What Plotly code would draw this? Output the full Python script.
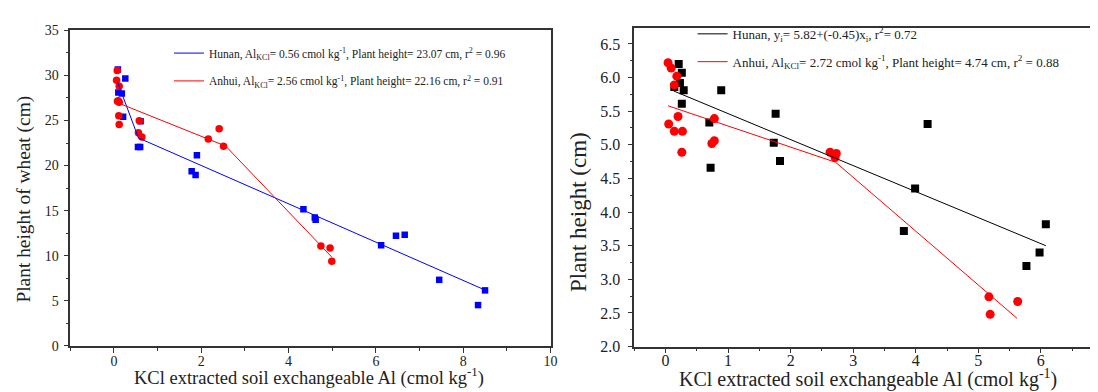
import plotly.graph_objects as go

# ---------------- Left panel data (wheat) ----------------
hunan_L_x = [0.09, 0.26, 0.10, 0.18, 0.21, 0.61, 0.55, 0.60, 1.90, 1.78, 1.87,
             4.34, 4.60, 4.62, 6.12, 6.46, 6.66, 7.45, 8.34, 8.50]
hunan_L_y = [30.67, 29.65, 28.1, 28.0, 25.43, 24.93, 22.05, 22.05, 21.15, 19.38, 18.95,
             15.16, 14.24, 13.99, 11.16, 12.22, 12.33, 7.33, 4.53, 6.16]
anhui_L_x = [0.075, 0.06, 0.12, 0.08, 0.12, 0.10, 0.11, 0.12, 0.58, 0.56, 0.64,
             2.16, 2.41, 2.51, 4.74, 4.95, 4.99]
anhui_L_y = [30.56, 29.47, 28.8, 27.13, 27.03, 27.2, 25.53, 24.57, 24.96, 23.65, 23.16,
             22.95, 24.09, 22.14, 11.09, 10.87, 9.39]
# segmented fits (start, breakpoint, end)
hunan_L_fit_x = [0.08, 0.56, 8.50]
hunan_L_fit_y = [29.3, 23.07, 6.20]
anhui_L_fit_x = [0.07, 2.56, 4.99]
anhui_L_fit_y = [27.0, 22.16, 9.85]

# ---------------- Right panel data ----------------
hunan_R_x = [0.21, 0.26, 0.23, 0.14, 0.29, 0.26, 0.89, 0.70, 0.72, 1.76, 1.73, 1.83,
             4.19, 3.99, 3.81, 6.08, 5.98, 5.77]
hunan_R_y = [6.20, 6.07, 5.92, 5.86, 5.81, 5.61, 5.81, 5.33, 4.66, 5.46, 5.03, 4.76,
             5.31, 4.35, 3.72, 3.82, 3.40, 3.20]
anhui_R_x = [0.04, 0.09, 0.18, 0.14, 0.05, 0.20, 0.14, 0.27, 0.26, 0.78, 0.74, 0.78,
             2.63, 2.73, 2.71, 5.17, 5.19, 5.63]
anhui_R_y = [6.22, 6.14, 6.02, 5.89, 5.31, 5.42, 5.20, 5.20, 4.89, 5.39, 5.02, 5.06,
             4.89, 4.87, 4.81, 2.74, 2.48, 2.67]
hunan_R_fit_x = [0.13, 6.08]
hunan_R_fit_y = [5.80, 3.50]
anhui_R_fit_x = [0.04, 2.72, 5.62]
anhui_R_fit_y = [5.58, 4.74, 2.42]

label_hL = "Hunan, Al<sub>KCl</sub>= 0.56 cmol kg<sup>-1</sup>, Plant height= 23.07 cm, r<sup>2</sup> = 0.96"
label_aL = "Anhui, Al<sub>KCl</sub>= 2.56 cmol kg<sup>-1</sup>, Plant height= 22.16 cm, r<sup>2</sup> = 0.91"
label_hR = "Hunan, y<sub>i</sub>= 5.82+(-0.45)x<sub>i</sub>, r<sup>2</sup>= 0.72"
label_aR = "Anhui, Al<sub>KCl</sub>= 2.72 cmol kg<sup>-1</sup>, Plant height= 4.74 cm, r<sup>2</sup> = 0.88"

xtitle = "KCl extracted soil exchangeable Al (cmol kg<sup>-1</sup>)"
ytitle_L = "Plant height of wheat (cm)"
ytitle_R = "Plant height (cm)"

BLUE = "#0000ff"
RED = "#ff0000"
FONT = "Liberation Serif"
TXT = "#222222"
AX = "#333333"

W, H = 1098, 392
def px_x(p):
    return p / W
def px_y(p):
    return (H - p) / H

fig = go.Figure()

# left panel
fig.add_trace(go.Scatter(x=hunan_L_x, y=hunan_L_y, mode="markers",
                         marker=dict(symbol="square", size=6.5, color=BLUE),
                         showlegend=False, xaxis="x", yaxis="y"))
fig.add_trace(go.Scatter(x=anhui_L_x, y=anhui_L_y, mode="markers",
                         marker=dict(symbol="circle", size=7.5, color=RED),
                         showlegend=False, xaxis="x", yaxis="y"))
fig.add_trace(go.Scatter(x=hunan_L_fit_x, y=hunan_L_fit_y, mode="lines",
                         line=dict(color=BLUE, width=1), name=label_hL,
                         legend="legend", xaxis="x", yaxis="y"))
fig.add_trace(go.Scatter(x=anhui_L_fit_x, y=anhui_L_fit_y, mode="lines",
                         line=dict(color=RED, width=1), name=label_aL,
                         legend="legend2", xaxis="x", yaxis="y"))

# right panel
fig.add_trace(go.Scatter(x=hunan_R_x, y=hunan_R_y, mode="markers",
                         marker=dict(symbol="square", size=8, color="black"),
                         showlegend=False, xaxis="x2", yaxis="y2"))
fig.add_trace(go.Scatter(x=anhui_R_x, y=anhui_R_y, mode="markers",
                         marker=dict(symbol="circle", size=9, color=RED),
                         showlegend=False, xaxis="x2", yaxis="y2"))
fig.add_trace(go.Scatter(x=hunan_R_fit_x, y=hunan_R_fit_y, mode="lines",
                         line=dict(color="black", width=1), name=label_hR,
                         legend="legend3", xaxis="x2", yaxis="y2"))
fig.add_trace(go.Scatter(x=anhui_R_fit_x, y=anhui_R_fit_y, mode="lines",
                         line=dict(color=RED, width=1), name=label_aR,
                         legend="legend4", xaxis="x2", yaxis="y2"))

def axis_common(fs):
    return dict(showgrid=False, zeroline=False, showline=True, linecolor=AX,
                linewidth=1.5, ticks="outside", tickcolor=AX, tickwidth=1.2, ticklen=5,
                tickfont=dict(family=FONT, size=fs, color=TXT))

def minor(d):
    return dict(dtick=d, ticklen=3, ticks="outside", tickcolor=AX, tickwidth=1)

def leg(x, y, fs):
    return dict(x=px_x(x), y=px_y(y), xanchor="left", yanchor="middle",
                bgcolor="rgba(0,0,0,0)", borderwidth=0,
                font=dict(family=FONT, size=fs, color=TXT))

fig.update_layout(
    width=W, height=H,
    margin=dict(l=0, r=0, t=0, b=0),
    paper_bgcolor="white", plot_bgcolor="white",
    font=dict(family=FONT, color=TXT),
    xaxis=dict(domain=[px_x(62.7), px_x(546)], range=[-1, 10], tick0=0, dtick=2,
               minor=minor(1), mirror=True, ticklabelstandoff=-3,
               anchor="y", **axis_common(14)),
    yaxis=dict(domain=[px_y(345), px_y(16)], range=[0, 35], tick0=0, dtick=5,
               minor=minor(2.5), mirror=True, ticklabelstandoff=2,
               anchor="x", **axis_common(14)),
    xaxis2=dict(domain=[px_x(630.3), 1.0], range=[-0.5, 6.93], tick0=0, dtick=1,
                minor=minor(0.5), mirror=True, ticklabelstandoff=-7,
                anchor="y2", **axis_common(16)),
    yaxis2=dict(domain=[px_y(345.7), px_y(13.3)], range=[2.0, 6.74], tick0=2, dtick=0.5,
                tickformat=".1f", minor=minor(0.25), ticklabelstandoff=4,
                anchor="x2", **axis_common(16)),
    legend=leg(162, 39.7, 11.5),
    legend2=leg(162, 68.7, 11.5),
    legend3=leg(689, 19.7, 13),
    legend4=leg(689, 48.7, 13),
    annotations=[
        dict(text=xtitle, xref="paper", yref="paper", x=px_x(303), y=px_y(392.3),
             xanchor="center", yanchor="bottom", showarrow=False,
             font=dict(family=FONT, size=18.5, color=TXT)),
        dict(text=xtitle, xref="paper", yref="paper", x=px_x(866), y=px_y(394),
             xanchor="center", yanchor="bottom", showarrow=False,
             font=dict(family=FONT, size=20, color=TXT)),
        dict(text=ytitle_L, xref="paper", yref="paper", x=px_x(16), y=px_y(191.5),
             xanchor="center", yanchor="middle", textangle=-90, showarrow=False,
             font=dict(family=FONT, size=19.4, color=TXT)),
        dict(text=ytitle_R, xref="paper", yref="paper", x=px_x(574), y=px_y(205),
             xanchor="center", yanchor="middle", textangle=-90, showarrow=False,
             font=dict(family=FONT, size=23, color=TXT)),
    ],
)

fig.write_html("out.html")
